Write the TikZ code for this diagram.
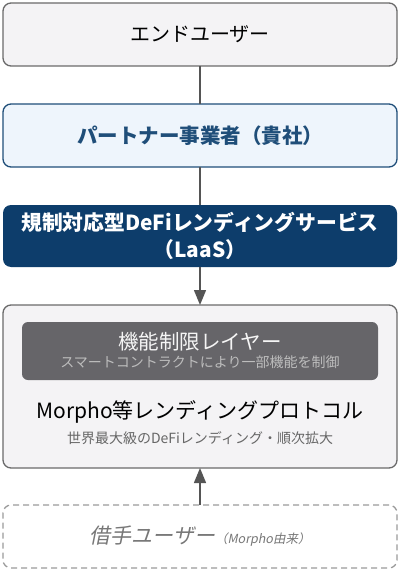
\documentclass[tikz,border=0pt]{standalone}
\usepackage{fontspec}
\setmainfont{Noto Sans CJK JP}
\newfontfamily\slantjp[FakeSlant=0.2]{Noto Sans CJK JP}
\usetikzlibrary{positioning,arrows.meta}
\definecolor{edgegray}{HTML}{555555}
\definecolor{framegray}{HTML}{6A6A6A}
\definecolor{paleface}{HTML}{F4F3F5}
\definecolor{paleblue}{HTML}{EEF5FC}
\definecolor{partnerblue}{HTML}{1F4E79}
\definecolor{navy}{HTML}{0D3D6B}
\definecolor{layergray}{HTML}{666569}
\definecolor{softgray}{HTML}{BDBDBD}
\definecolor{notegray}{HTML}{666666}
\definecolor{dashgray}{HTML}{9A9A9A}
\definecolor{borrowgray}{HTML}{777777}
\tikzstyle{every picture}=[x=1pt, y=1pt, node distance=38pt,%
	>={Triangle[length=15pt,width=12pt]}]
\tikzstyle{tier}=[rectangle, rounded corners=8pt, line width=1.3pt,%
	minimum width=394pt, minimum height=63pt, inner sep=0pt, outer sep=0pt, align=center]
\tikzstyle{link}=[draw=edgegray, line width=1.4pt]

\begin{document}
\begin{tikzpicture}
\useasboundingbox (0,0) rectangle (400,-572);
\node[tier, draw=framegray, fill=paleface, font=\fontsize{20}{24}\selectfont]%
	(enduser) at (200,-34.5) {エンドユーザー};
\node[tier, draw=partnerblue, fill=paleblue, text=partnerblue,%
	font=\fontsize{20.5}{24}\selectfont\bfseries, below=of enduser] (partner)%
	{パートナー事業者（貴社）};
\node[tier, fill=navy, text=white, minimum height=62pt,%
	font=\fontsize{20.8}{27}\selectfont\bfseries, below=of partner] (laas)%
	{規制対応型DeFiレンディングサービス\\（LaaS）};
\node[tier, draw=framegray, fill=paleface, minimum height=163pt, below=of laas] (protocol) {};
\node[rectangle, rounded corners=6pt, fill=layergray, minimum width=356pt,%
	minimum height=58pt, inner sep=0pt] (layer) at (200,-351) {};
\node[text=white!96!black, font=\fontsize{20.5}{24}\selectfont] (layertitle) at (200,-342) {機能制限レイヤー};
\node[text=softgray, font=\fontsize{14}{16}\selectfont] (layernote) at (200,-362) {スマートコントラクトにより一部機能を制御};
\node[font=\fontsize{21}{25}\selectfont] (protoname) at (200,-412) {Morpho等レンディングプロトコル};
\node[text=notegray, font=\fontsize{14}{16}\selectfont] (protonote) at (200,-438) {世界最大級のDeFiレンディング・順次拡大};
\node[tier, draw=dashgray, dash pattern=on 6pt off 4pt, fill=white, text=borrowgray,%
	font=\slantjp, below=37pt of protocol] (borrower)%
	{{\fontsize{21}{25}\selectfont 借手ユーザー}{\fontsize{12.5}{15}\selectfont （Morpho由来）}};
\path (enduser) edge[link] (partner);
\path (partner) edge[link] (laas);
\path (laas) edge[link, ->, fill=edgegray] (protocol);
\path (borrower) edge[link, ->, fill=edgegray] (protocol);
\end{tikzpicture}
\end{document}
